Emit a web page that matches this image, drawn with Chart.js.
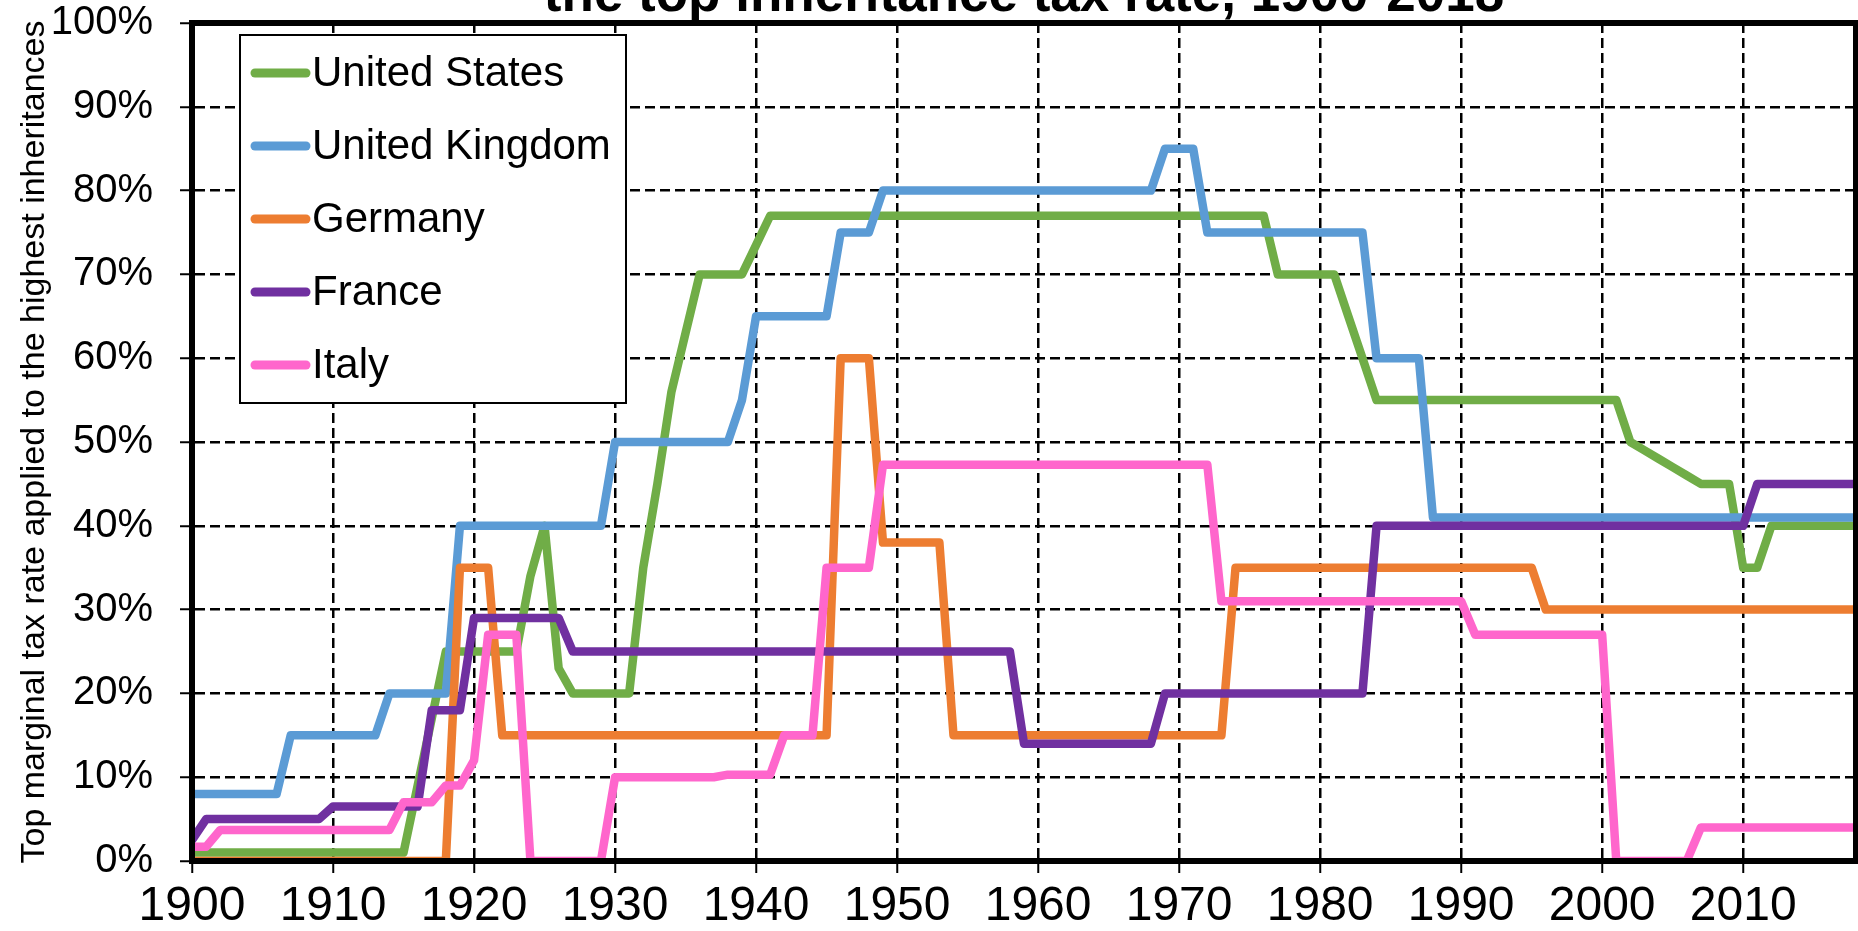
<!DOCTYPE html>
<html>
<head>
<meta charset="utf-8">
<script src="https://cdn.jsdelivr.net/npm/chart.js@4.4.1/dist/chart.umd.min.js"></script>
<style>
  html, body { margin: 0; padding: 0; background: #fff; overflow: hidden; }
  #wrap { position: absolute; left: 0; top: -70px; width: 1858px; height: 1021px; }
</style>
</head>
<body>
<div id="wrap"><canvas id="myGraficTax"></canvas></div>
<script>
// years on the x axis
let years = [
  1900,1901,1902,1903,1904,1905,1906,1907,1908,1909,
  1910,1911,1912,1913,1914,1915,1916,1917,1918,1919,
  1920,1921,1922,1923,1924,1925,1926,1927,1928,1929,
  1930,1931,1932,1933,1934,1935,1936,1937,1938,1939,
  1940,1941,1942,1943,1944,1945,1946,1947,1948,1949,
  1950,1951,1952,1953,1954,1955,1956,1957,1958,1959,
  1960,1961,1962,1963,1964,1965,1966,1967,1968,1969,
  1970,1971,1972,1973,1974,1975,1976,1977,1978,1979,
  1980,1981,1982,1983,1984,1985,1986,1987,1988,1989,
  1990,1991,1992,1993,1994,1995,1996,1997,1998,1999,
  2000,2001,2002,2003,2004,2005,2006,2007,2008,2009,
  2010,2011,2012,2013,2014,2015,2016,2017,2018
];

// top inheritance tax rate (%)
let unitedStates = [
  1,1,1,1,1,1,1,1,1,1,
  1,1,1,1,1,1,9,17,25,25,
  25,25,25,25,34,40,23,20,20,20,
  20,20,35,45,56,63,70,70,70,70,
  73.5,77,77,77,77,77,77,77,77,77,
  77,77,77,77,77,77,77,77,77,77,
  77,77,77,77,77,77,77,77,77,77,
  77,77,77,77,77,77,77,70,70,70,
  70,70,65,60,55,55,55,55,55,55,
  55,55,55,55,55,55,55,55,55,55,
  55,55,50,49,48,47,46,45,45,45,
  35,35,40,40,40,40,40,40,40
];

let unitedKingdom = [
  8,8,8,8,8,8,8,15,15,15,
  15,15,15,15,20,20,20,20,20,40,
  40,40,40,40,40,40,40,40,40,40,
  50,50,50,50,50,50,50,50,50,55,
  65,65,65,65,65,65,75,75,75,80,
  80,80,80,80,80,80,80,80,80,80,
  80,80,80,80,80,80,80,80,80,85,
  85,85,75,75,75,75,75,75,75,75,
  75,75,75,75,60,60,60,60,41,41,
  41,41,41,41,41,41,41,41,41,41,
  41,41,41,41,41,41,41,41,41,41,
  41,41,41,41,41,41,41,41,41
];

let germany = [
  0,0,0,0,0,0,0,0,0,0,
  0,0,0,0,0,0,0,0,0,35,
  35,35,15,15,15,15,15,15,15,15,
  15,15,15,15,15,15,15,15,15,15,
  15,15,15,15,15,15,60,60,60,38,
  38,38,38,38,15,15,15,15,15,15,
  15,15,15,15,15,15,15,15,15,15,
  15,15,15,15,35,35,35,35,35,35,
  35,35,35,35,35,35,35,35,35,35,
  35,35,35,35,35,35,30,30,30,30,
  30,30,30,30,30,30,30,30,30,30,
  30,30,30,30,30,30,30,30,30
];

let france = [
  2.5,5,5,5,5,5,5,5,5,5,
  6.5,6.5,6.5,6.5,6.5,6.5,6.5,18,18,18,
  29,29,29,29,29,29,29,25,25,25,
  25,25,25,25,25,25,25,25,25,25,
  25,25,25,25,25,25,25,25,25,25,
  25,25,25,25,25,25,25,25,25,14,
  14,14,14,14,14,14,14,14,14,20,
  20,20,20,20,20,20,20,20,20,20,
  20,20,20,20,40,40,40,40,40,40,
  40,40,40,40,40,40,40,40,40,40,
  40,40,40,40,40,40,40,40,40,40,
  40,45,45,45,45,45,45,45,45
];

let italy = [
  1.7,1.7,3.7,3.7,3.7,3.7,3.7,3.7,3.7,3.7,
  3.7,3.7,3.7,3.7,3.7,7,7,7,9,9,
  12,27,27,27,0,0,0,0,0,0,
  10,10,10,10,10,10,10,10,10.3,10.3,
  10.3,10.3,15,15,15,35,35,35,35,47.3,
  47.3,47.3,47.3,47.3,47.3,47.3,47.3,47.3,47.3,47.3,
  47.3,47.3,47.3,47.3,47.3,47.3,47.3,47.3,47.3,47.3,
  47.3,47.3,47.3,31,31,31,31,31,31,31,
  31,31,31,31,31,31,31,31,31,31,
  31,27,27,27,27,27,27,27,27,27,
  27,0,0,0,0,0,0,4,4,4,
  4,4,4,4,4,4,4,4,4
];

let countries = ['United States', 'United Kingdom', 'Germany', 'France', 'Italy'];
let series = [unitedStates, unitedKingdom, germany, france, italy];
let colors = ['#70AD47', '#5B9BD5', '#ED7D31', '#7030A0', '#FF66CC'];

let yTicks = [0, 10, 20, 30, 40, 50, 60, 70, 80, 90, 100];

const FONT = '"Liberation Sans", Arial, sans-serif';

// datasets: the last country is drawn on top
let datasets = [];
for (let i in countries) {
  datasets.push({
    label: countries[i],
    data: years.map((yr, k) => ({ x: yr, y: series[i][k] })),
    borderColor: colors[i],
    backgroundColor: colors[i],
    order: countries.length - i
  });
}

// frame around the plot + legend box inside
const frameAndLegend = {
  id: 'frameAndLegend',
  afterDatasetsDraw(chart) {
    const ctx = chart.ctx;
    const a = chart.chartArea;
    ctx.save();
    ctx.strokeStyle = '#000';
    ctx.lineWidth = 6;
    ctx.strokeRect(a.left, a.top, a.right - a.left, a.bottom - a.top);

    const bx = a.left + 48, by = a.top + 12, bw = 386, bh = 368;
    ctx.fillStyle = '#fff';
    ctx.fillRect(bx, by, bw, bh);
    ctx.lineWidth = 2;
    ctx.strokeRect(bx, by, bw, bh);

    ctx.font = '42px ' + FONT;
    ctx.textBaseline = 'middle';
    ctx.lineCap = 'round';
    chart.data.datasets.forEach((ds, i) => {
      const y = by + 38 + i * 73;
      ctx.strokeStyle = ds.borderColor;
      ctx.lineWidth = 9;
      ctx.beginPath();
      ctx.moveTo(bx + 15, y);
      ctx.lineTo(bx + 66, y);
      ctx.stroke();
      ctx.fillStyle = '#000';
      ctx.fillText(ds.label, bx + 72, y + 1);
    });
    ctx.restore();
  }
};

let myChartTax = {
  type: 'line',
  data: { datasets: datasets },
  options: {
    responsive: true,
    maintainAspectRatio: false,
    animation: false,
    layout: { padding: { left: 0, right: 2, top: 0, bottom: 0 } },
    elements: {
      line: { borderWidth: 8.5, tension: 0, borderJoinStyle: 'round', borderCapStyle: 'round' },
      point: { radius: 0, hoverRadius: 0 }
    },
    plugins: {
      legend: { display: false },
      tooltip: { enabled: false },
      title: {
        display: true,
        fullSize: false,
        text: 'the top inheritance tax rate, 1900-2018',
        color: '#000',
        font: { family: FONT, size: 53, weight: 'bold', lineHeight: 1 },
        padding: { top: 40, bottom: 0 }
      }
    },
    scales: {
      x: {
        type: 'linear',
        min: 1900,
        max: 2018,
        afterFit: s => { s.height = 90; },
        ticks: {
          stepSize: 10,
          includeBounds: false,
          color: '#000',
          padding: 5,
          font: { family: FONT, size: 48 },
          callback: v => String(v)
        },
        grid: {
          color: '#000', lineWidth: 2.5,
          tickLength: 12, tickWidth: 2, tickColor: '#000', tickBorderDash: []
        },
        border: { display: true, color: '#000', width: 6, dash: [10, 5] }
      },
      y: {
        min: 0,
        max: 100,
        afterFit: s => { s.width = 192; },
        afterBuildTicks: s => { s.ticks = yTicks.map(v => ({ value: v })); },
        ticks: {
          color: '#000',
          padding: 27,
          font: { family: FONT, size: 40 },
          callback: v => v + '%'
        },
        grid: {
          color: '#000', lineWidth: 2.5,
          tickLength: 12, tickWidth: 2, tickColor: '#000', tickBorderDash: []
        },
        border: { display: true, color: '#000', width: 6, dash: [10, 5] },
        title: {
          display: true,
          text: 'Top marginal tax rate applied to the highest inheritances',
          color: '#000',
          font: { family: FONT, size: 34 },
          padding: { top: 14, bottom: 0 }
        }
      }
    }
  },
  plugins: [frameAndLegend]
};

var myGraficTax = document.getElementById('myGraficTax');
window.taxChart = new Chart(myGraficTax, myChartTax);
</script>
</body>
</html>
